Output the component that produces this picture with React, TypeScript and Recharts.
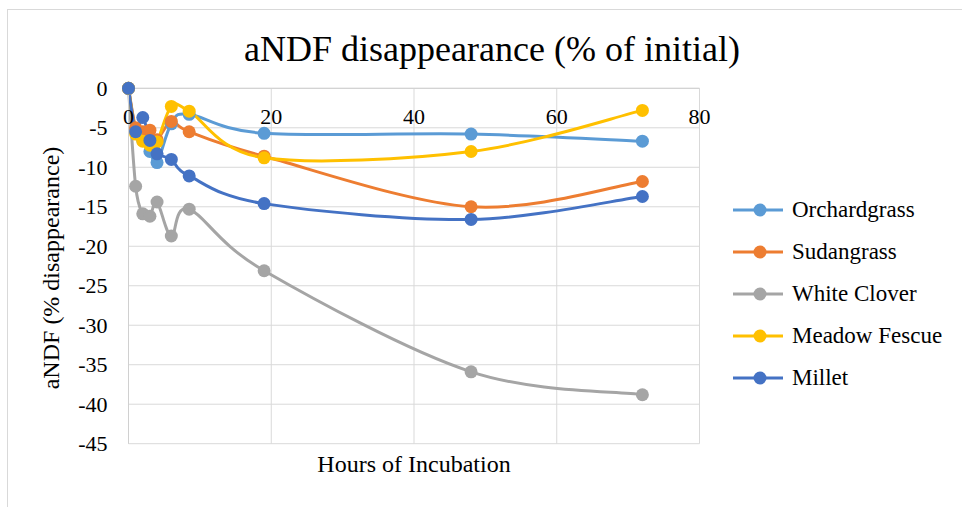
import React from 'react';
import { LineChart, Line, XAxis, YAxis, CartesianGrid, Legend, Label } from 'recharts';

const hours = [0, 1, 2, 3, 4, 6, 8.5, 19, 48, 72];
const orchardgrass = [0, -5.3, -6.6, -8.0, -9.4, -4.5, -3.3, -5.7, -5.8, -6.7];
const sudangrass = [0, -5.0, -5.5, -5.3, -6.5, -4.2, -5.5, -8.6, -15.0, -11.8];
const whiteClover = [0, -12.4, -15.9, -16.2, -14.4, -18.7, -15.3, -23.1, -35.9, -38.8];
const meadowFescue = [0, -5.8, -6.7, -7.2, -6.8, -2.3, -2.9, -8.8, -8.0, -2.8];
const millet = [0, -5.5, -3.7, -6.6, -8.3, -9.0, -11.1, -14.6, -16.6, -13.7];

const seriesNames = ['Orchardgrass', 'Sudangrass', 'White Clover', 'Meadow Fescue', 'Millet'];
const seriesValues = [orchardgrass, sudangrass, whiteClover, meadowFescue, millet];
const seriesColors = ['#5B9BD5', '#ED7D31', '#A5A5A5', '#FFC000', '#4472C4'];

const xTicks = [0, 20, 40, 60, 80];
const yTicks = [0, -5, -10, -15, -20, -25, -30, -35, -40, -45];

const data = hours.map((h, i) => {
  const row: Record<string, number> = { hours: h };
  seriesNames.forEach((n, s) => {
    row[n] = seriesValues[s][i];
  });
  return row;
});

const FONT = '"Liberation Serif", "Times New Roman", serif';

// Excel-like smoothed line (Catmull-Rom style bezier)
function excelCurve(context: any) {
  let pts: [number, number][] = [];
  return {
    areaStart() {},
    areaEnd() {},
    lineStart() {
      pts = [];
    },
    lineEnd() {
      if (!pts.length) return;
      context.moveTo(pts[0][0], pts[0][1]);
      for (let i = 0; i < pts.length - 1; i++) {
        const p0 = pts[i - 1] || pts[i];
        const p1 = pts[i];
        const p2 = pts[i + 1];
        const p3 = pts[i + 2] || p2;
        const c1x = p1[0] + (p2[0] - p0[0]) / 6;
        const c1y = p1[1] + (p2[1] - p0[1]) / 6;
        const c2x = p2[0] - (p3[0] - p1[0]) / 6;
        const c2y = p2[1] - (p3[1] - p1[1]) / 6;
        context.bezierCurveTo(c1x, c1y, c2x, c2y, p2[0], p2[1]);
      }
    },
    point(x: number, y: number) {
      pts.push([+x, +y]);
    },
  };
}

const XTick = (props: any) => {
  const { x, y, payload } = props;
  return (
    <text x={x} y={y + 44} textAnchor="middle" fontSize={22} fontFamily={FONT} fill="#000">
      {payload.value}
    </text>
  );
};

const YTick = (props: any) => {
  const { x, y, payload } = props;
  return (
    <text x={x - 13} y={y + 7.5} textAnchor="end" fontSize={22} fontFamily={FONT} fill="#000">
      {payload.value}
    </text>
  );
};

const renderLegend = () => (
  <div style={{ fontFamily: FONT, fontSize: 23, color: '#000' }}>
    {seriesNames.map((n, i) => (
      <div key={n} style={{ display: 'flex', alignItems: 'center', height: 42 }}>
        <svg width={59} height={20} style={{ flex: 'none' }}>
          <line x1={0} y1={10} x2={50} y2={10} stroke={seriesColors[i]} strokeWidth={3} />
          <circle cx={27} cy={10} r={6.5} fill={seriesColors[i]} />
        </svg>
        <span style={{ whiteSpace: 'nowrap' }}>{n}</span>
      </div>
    ))}
  </div>
);

export default function App() {
  return (
    <div
      style={{
        position: 'absolute',
        left: 0,
        top: 0,
        width: 962,
        height: 507,
        background: '#fff',
        overflow: 'hidden',
        fontFamily: FONT,
      }}
    >
      <div
        style={{
          position: 'absolute',
          left: 7,
          top: 9,
          width: 980,
          height: 520,
          border: '1px solid #d9d9d9',
          boxSizing: 'border-box',
        }}
      />
      <div
        style={{
          position: 'absolute',
          left: 192,
          top: 29,
          width: 600,
          textAlign: 'center',
          fontSize: 36,
          lineHeight: '40px',
          color: '#000',
          fontFamily: FONT,
        }}
      >
        aNDF disappearance (% of initial)
      </div>
      <div style={{ position: 'absolute', left: 0, top: 0 }}>
        <LineChart
          width={962}
          height={507}
          data={data}
          margin={{ top: 58.3, left: 78.5, right: 262.5, bottom: 63.3 }}
        >
          <CartesianGrid stroke="#d9d9d9" strokeWidth={1} />
          <XAxis
            dataKey="hours"
            type="number"
            domain={[0, 80]}
            ticks={xTicks}
            orientation="top"
            height={30}
            tickLine={false}
            axisLine={{ stroke: '#d0d0d0', strokeWidth: 1 }}
            tick={<XTick />}
            interval={0}
          >
            <Label
              content={(p: any) => {
                const vb = p.viewBox || {};
                return (
                  <text
                    x={vb.x + vb.width / 2}
                    y={472}
                    textAnchor="middle"
                    fontSize={24}
                    fontFamily={FONT}
                    fill="#000"
                  >
                    Hours of Incubation
                  </text>
                );
              }}
            />
          </XAxis>
          <YAxis
            type="number"
            domain={[-45, 0]}
            ticks={yTicks}
            width={50}
            tickLine={false}
            axisLine={{ stroke: '#d0d0d0', strokeWidth: 1 }}
            tick={<YTick />}
            interval={0}
          >
            <Label
              content={() => (
                <text
                  x={0}
                  y={0}
                  transform="translate(59 268) rotate(-90)"
                  textAnchor="middle"
                  fontSize={24}
                  fontFamily={FONT}
                  fill="#000"
                >
                  aNDF (% disappearance)
                </text>
              )}
            />
          </YAxis>
          <Legend
            layout="vertical"
            align="center"
            verticalAlign="middle"
            content={renderLegend}
            wrapperStyle={{ left: 733, top: 189, width: 230 }}
          />
          {seriesNames.map((n, i) => (
            <Line
              key={n}
              dataKey={n}
              type={excelCurve as any}
              stroke={seriesColors[i]}
              strokeWidth={3}
              dot={{ r: 6.5, fill: seriesColors[i], stroke: seriesColors[i], strokeWidth: 0 }}
              activeDot={false}
              isAnimationActive={false}
            />
          ))}
        </LineChart>
      </div>
    </div>
  );
}
